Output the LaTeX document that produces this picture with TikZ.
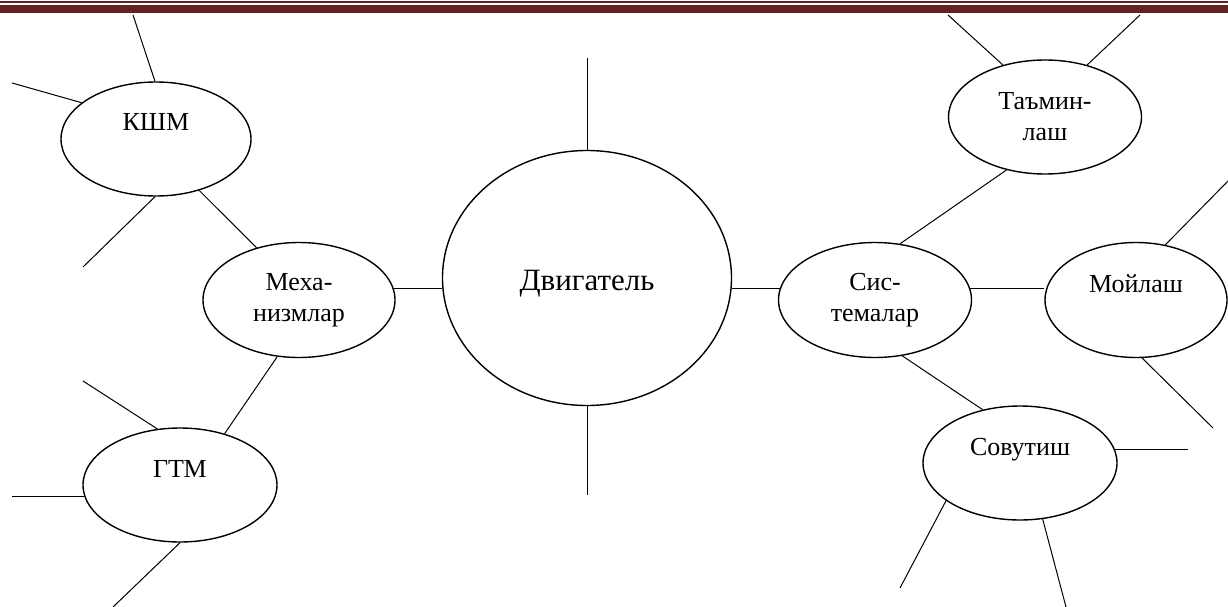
\documentclass[tikz,border=0pt]{standalone}
\usepackage{fontspec}
\setmainfont{Liberation Serif}
\usetikzlibrary{shapes.geometric}
\definecolor{barred}{HTML}{622423}
\begin{document}
\begin{tikzpicture}[x=1pt,y=-1pt,
  bub/.style={ellipse, draw, line width=1.4pt, inner sep=0pt, align=center,
    font=\fontsize{26}{31}\selectfont},
  one/.style={text height=0pt, text depth=16pt},
  link/.style={line width=1pt},
]
\useasboundingbox (0,0) rectangle (1228,607);
\fill[white] (0,0) rectangle (1228,607);
\fill[barred] (0,1) rectangle (1228,3);
\fill[barred] (0,5) rectangle (1228,13);

% bubbles
\node[bub, one, minimum width=190pt, minimum height=114pt] (kshm) at (156,139) {КШМ};
\node[bub, minimum width=192pt, minimum height=115pt] (mech) at (299,300) {Меха-\\низмлар};
\node[bub, one, minimum width=194pt, minimum height=114pt] (gtm) at (180,485) {ГТМ};
\node[bub, minimum width=289pt, minimum height=255pt, font=\fontsize{31}{36}\selectfont,
      text height=24pt, text depth=0pt] (dvig) at (587,278) {Двигатель};
\node[bub, minimum width=193pt, minimum height=115pt] (sys) at (875,300) {Сис-\\темалар};
\node[bub, minimum width=193pt, minimum height=114pt] (tam) at (1045,117) {Таъмин-\\лаш};
\node[bub, one, minimum width=182pt, minimum height=115pt] (moy) at (1136,300) {Мойлаш};
\node[bub, one, minimum width=194pt, minimum height=114pt] (sov) at (1020,463) {Совутиш};

% free ends
\coordinate (k1) at (133,15);
\coordinate (k2) at (12,83);
\coordinate (k3) at (83,267);
\coordinate (g1) at (83,381);
\coordinate (g2) at (12,496);
\coordinate (g3) at (113,607);
\coordinate (d1) at (587,58);
\coordinate (d2) at (587,495);
\coordinate (t1) at (948,15);
\coordinate (t2) at (1140,15);
\coordinate (m1) at (1228,181);
\coordinate (m2) at (1213,428);
\coordinate (s1) at (1188,450);
\coordinate (s2) at (900,588);
\coordinate (s3) at (1066,607);

% connectors between bubbles
\draw[link] (kshm.-50) -- (mech.129);
\draw[link] (mech.-111) -- (gtm.49);
\draw[link] (mech.7) -- (mech.7 -| dvig.west);
\draw[link] (sys.173) -- (sys.173 -| dvig.east);
\draw[link] (sys.7) -- (sys.7 -| moy.west);
\draw[link] (sys.66) -- (tam.-126);
\draw[link] (sys.-64) -- (sov.125);

% free spokes
\draw[link] (kshm.91) -- (k1);
\draw[link] (kshm.154) -- (k2);
\draw[link] (kshm.-91) -- (k3);
\draw[link] (gtm.112) -- (g1);
\draw[link] (gtm.-173) -- (gtm.-173 -| g2);
\draw[link] (gtm.-90) -- (g3);
\draw[link] (dvig.north) -- (d1);
\draw[link] (dvig.south) -- (d2);
\draw[link] (tam.129) -- (t1);
\draw[link] (tam.51) -- (t2);
\draw[link] (moy.62) -- (m1);
\draw[link] (moy.-84) -- (m2);
\draw[link] (sov.8) -- (sov.8 -| s1);
\draw[link] (sov.-153) -- (s2);
\draw[link] (sov.-68) -- (s3);
\end{tikzpicture}
\end{document}
